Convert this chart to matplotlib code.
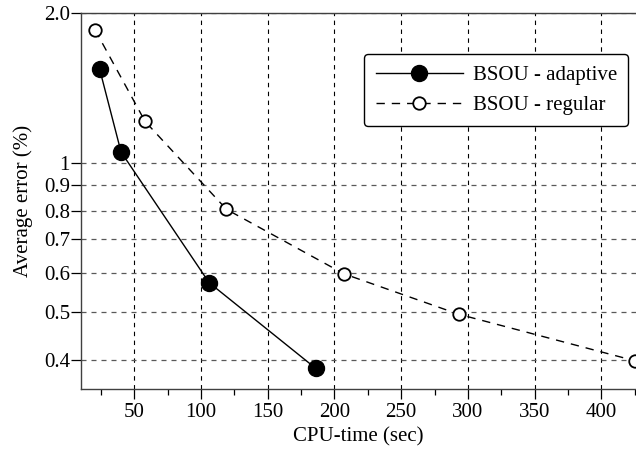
import matplotlib
matplotlib.use('Agg')
import matplotlib.pyplot as plt
from matplotlib.ticker import FixedLocator, NullLocator, MultipleLocator

# data
adaptive_x = [24, 40, 106, 186]
adaptive_y = [1.54, 1.05, 0.573, 0.385]
regular_x = [20.5, 58, 119, 207, 293, 425]
regular_y = [1.85, 1.21, 0.805, 0.597, 0.495, 0.399]

y_ticks = [0.4, 0.5, 0.6, 0.7, 0.8, 0.9, 1, 2.0]
y_labels = ['0.4', '0.5', '0.6', '0.7', '0.8', '0.9', '1', '2.0']
x_ticks = [50, 100, 150, 200, 250, 300, 350, 400]

plt.rcParams['font.family'] = ['Liberation Serif', 'DejaVu Serif']
plt.rcParams['font.size'] = 15


def main():
    fig = plt.figure(figsize=(6.36, 4.51), dpi=100)
    ax = fig.add_axes([0.1274, 0.1375, 0.8726, 0.8337])

    ax.plot(adaptive_x, adaptive_y, color='black', lw=1.0, marker='o',
            markersize=11.5, markerfacecolor='black', markeredgecolor='black',
            label='BSOU - adaptive', zorder=3)
    ax.plot(regular_x, regular_y, color='black', lw=1.0, dashes=(6, 5),
            marker='o', markersize=9, markerfacecolor='white',
            markeredgecolor='black', markeredgewidth=1.3,
            label='BSOU - regular', zorder=3)

    ax.set_yscale('log')
    ax.set_ylim(0.35, 2.0)
    ax.set_xlim(10, 426)

    ax.yaxis.set_major_locator(FixedLocator(y_ticks))
    ax.set_yticklabels(y_labels)
    ax.yaxis.set_minor_locator(NullLocator())
    ax.xaxis.set_major_locator(FixedLocator(x_ticks))
    ax.xaxis.set_minor_locator(MultipleLocator(25))

    ax.tick_params(axis='both', which='major', direction='out', length=7,
                   width=0.9, colors='black')
    ax.tick_params(axis='x', which='minor', direction='out', length=4,
                   width=0.9)
    ax.tick_params(axis='y', which='major', pad=1)
    ax.tick_params(axis='x', which='major', pad=3)

    ax.grid(True, which='major', axis='x', color='black', ls=(0, (4, 4)),
            lw=0.8)
    ax.grid(True, which='major', axis='y', color='0.35', ls=(0, (4, 4)),
            lw=0.9)

    ax.spines['right'].set_visible(False)
    for s in ['left', 'bottom', 'top']:
        ax.spines[s].set_linewidth(1.0)
        ax.spines[s].set_color('0.25')

    ax.set_xlabel('CPU-time (sec)', labelpad=4)
    ax.set_ylabel('Average error (%)', labelpad=8)

    leg = ax.legend(loc='upper right', bbox_to_anchor=(0.986, 0.891),
                    borderaxespad=0, handlelength=4.2, handletextpad=0.45,
                    borderpad=0.55, labelspacing=0.5, fancybox=True,
                    framealpha=1, edgecolor='black', fontsize=15)
    leg.get_frame().set_linewidth(1.0)

    fig.savefig('out.png', dpi=100)


if __name__ == '__main__':
    main()
